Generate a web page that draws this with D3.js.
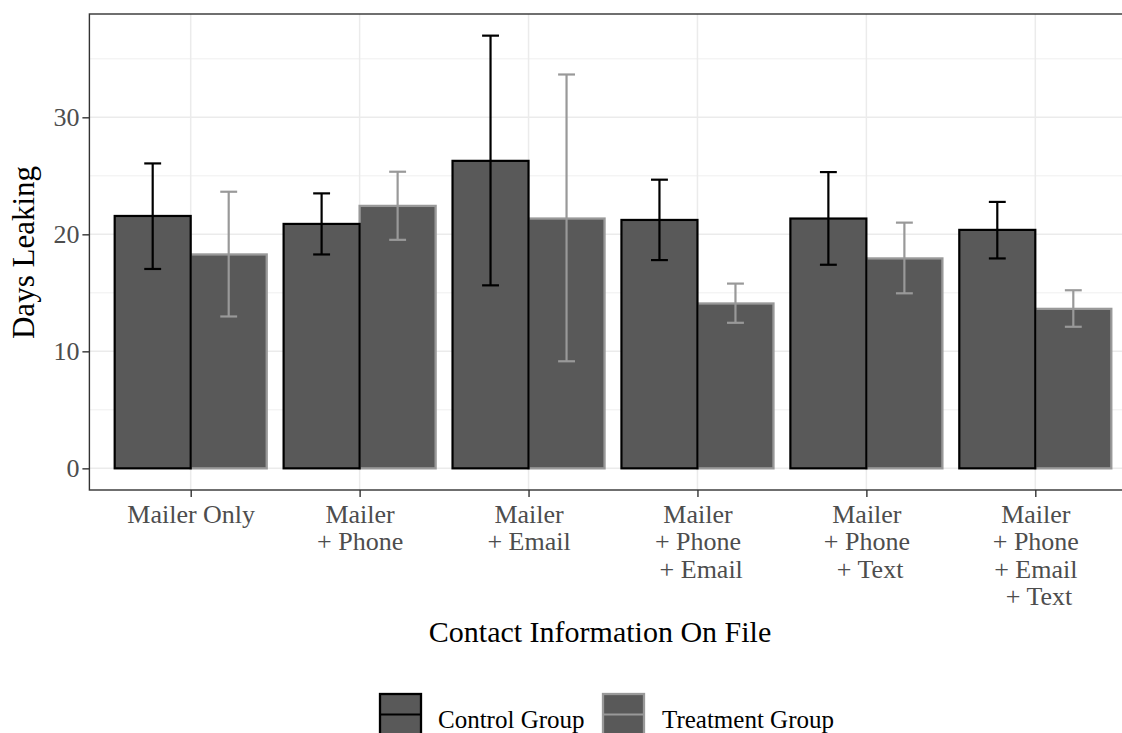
<!DOCTYPE html>
<html>
<head>
<meta charset="utf-8">
<script src="https://cdn.jsdelivr.net/npm/d3@7"></script>
<style>
  html, body { margin: 0; padding: 0; background: #fff; }
  svg { display: block; font-family: "Liberation Serif", "DejaVu Serif", serif; }
</style>
</head>
<body>
<svg id="chart" width="1122" height="733"></svg>
<script>
// Contact channel groups on the x axis (line breaks are kept per label)
const categories = [
  ["Mailer Only"],
  ["Mailer", "+ Phone"],
  ["Mailer", "+ Email"],
  ["Mailer", "+ Phone", " + Email"],
  ["Mailer", "+ Phone", " + Text"],
  ["Mailer", "+ Phone", "+ Email", " + Text"]
];
const groups = ["Control Group", "Treatment Group"];

// Mean days leaking with lower / upper error bounds
const controlMean  = [21.57, 20.89, 26.28, 21.23, 21.35, 20.38];
const controlLow   = [17.04, 18.28, 15.64, 17.80, 17.40, 17.94];
const controlHigh  = [26.06, 23.50, 36.98, 24.67, 25.32, 22.77];
const treatMean    = [18.28, 22.43, 21.35, 14.09, 17.94, 13.63];
const treatLow     = [12.98, 19.53,  9.15, 12.44, 14.96, 12.10];
const treatHigh    = [23.64, 25.35, 33.66, 15.79, 21.00, 15.22];

const yTicks = [0, 10, 20, 30];
const yMinorTicks = [5, 15, 25, 35];

const svg = d3.select("#chart");
const panel = { left: 89.4, top: 14, bottom: 490, right: 1136.6 };

const catKeys = categories.map((c, i) => i);
const x = d3.scalePoint().domain(catKeys).range([190.7, 1035.3]);
const step = x.step();
const y = d3.scaleLinear().domain([-1.85, 38.83]).range([panel.bottom, panel.top]);

const barFill = "#595959";
const strokeCol = { "Control Group": "#000000", "Treatment Group": "#999999" };

const rows = [];
categories.forEach((c, i) => {
  rows.push({ i, g: "Control Group", mean: controlMean[i], lo: controlLow[i], hi: controlHigh[i] });
  rows.push({ i, g: "Treatment Group", mean: treatMean[i], lo: treatLow[i], hi: treatHigh[i] });
});
const barW = step * 0.45;
const dodge = g => g === "Control Group" ? -barW / 2 : barW / 2;

// panel background and grid
svg.append("rect").attr("x", panel.left).attr("y", panel.top)
  .attr("width", panel.right - panel.left).attr("height", panel.bottom - panel.top)
  .attr("fill", "#fff");

const grid = svg.append("g");
yMinorTicks.forEach(v => grid.append("line")
  .attr("x1", panel.left).attr("x2", panel.right).attr("y1", y(v)).attr("y2", y(v))
  .attr("stroke", "#ebebeb").attr("stroke-width", 0.8));
yTicks.forEach(v => grid.append("line")
  .attr("x1", panel.left).attr("x2", panel.right).attr("y1", y(v)).attr("y2", y(v))
  .attr("stroke", "#ebebeb").attr("stroke-width", 1.5));
catKeys.forEach(k => grid.append("line")
  .attr("x1", x(k)).attr("x2", x(k)).attr("y1", panel.top).attr("y2", panel.bottom)
  .attr("stroke", "#ebebeb").attr("stroke-width", 1.5));

// bars: treatment first so the control outline stays on top
const order = ["Treatment Group", "Control Group"];
const bars = svg.append("g");
order.forEach(g => {
  bars.selectAll(null).data(rows.filter(r => r.g === g)).enter().append("rect")
    .attr("x", d => x(d.i) + dodge(d.g) - barW / 2)
    .attr("y", d => y(d.mean))
    .attr("width", barW)
    .attr("height", d => y(0) - y(d.mean))
    .attr("fill", barFill)
    .attr("stroke", d => strokeCol[d.g])
    .attr("stroke-width", d => d.g === "Control Group" ? 2.2 : 2.3);
});

// error bars
const capW = step * 0.1;
const eb = svg.append("g");
rows.forEach(d => {
  const cx = x(d.i) + dodge(d.g);
  const col = strokeCol[d.g];
  eb.append("line").attr("x1", cx).attr("x2", cx).attr("y1", y(d.lo)).attr("y2", y(d.hi))
    .attr("stroke", col).attr("stroke-width", 2.2);
  [d.lo, d.hi].forEach(v => eb.append("line")
    .attr("x1", cx - capW / 2).attr("x2", cx + capW / 2).attr("y1", y(v)).attr("y2", y(v))
    .attr("stroke", col).attr("stroke-width", 2.2));
});

// panel border
svg.append("rect").attr("x", panel.left).attr("y", panel.top)
  .attr("width", panel.right - panel.left).attr("height", panel.bottom - panel.top)
  .attr("fill", "none").attr("stroke", "#333333").attr("stroke-width", 1.4);

const serif = "'Liberation Serif', 'DejaVu Serif', serif";

// y axis
const yAxis = svg.append("g").attr("transform", `translate(${panel.left},0)`)
  .call(d3.axisLeft(y).tickValues(yTicks).tickSize(7).tickPadding(3).tickFormat(d3.format("d")));
yAxis.select(".domain").remove();
yAxis.selectAll(".tick line").attr("stroke", "#333333").attr("stroke-width", 1.4);
yAxis.selectAll(".tick text").attr("fill", "#4d4d4d").attr("font-size", 26)
  .attr("font-family", serif);

// x axis
const xAxis = svg.append("g").attr("transform", `translate(0,${panel.bottom})`)
  .call(d3.axisBottom(x).tickSize(7).tickFormat(""));
xAxis.select(".domain").remove();
xAxis.selectAll(".tick line").attr("stroke", "#333333").attr("stroke-width", 1.4);
xAxis.selectAll(".tick").each(function (k) {
  const t = d3.select(this).append("text")
    .attr("fill", "#4d4d4d").attr("font-size", 26).attr("text-anchor", "middle")
    .attr("font-family", serif)
    .attr("xml:space", "preserve");
  categories[k].forEach((line, j) => {
    t.append("tspan").attr("x", 0).attr("y", 33 + j * 27.3).text(line);
  });
});

// axis titles
svg.append("text").attr("x", 600).attr("y", 642).attr("text-anchor", "middle")
  .attr("font-family", serif).attr("font-size", 30).attr("fill", "#000")
  .text("Contact Information On File");
svg.append("text").attr("transform", "translate(34,252.5) rotate(-90)")
  .attr("text-anchor", "middle").attr("font-family", serif).attr("font-size", 31)
  .attr("fill", "#000").text("Days Leaking");

// legend
const legend = svg.append("g");
const keyX = [380, 603];
const labelX = [438, 662];
groups.forEach((g, i) => {
  legend.append("rect").attr("x", keyX[i]).attr("y", 694).attr("width", 41).attr("height", 42)
    .attr("fill", barFill).attr("stroke", strokeCol[g]).attr("stroke-width", 2.3);
  legend.append("line").attr("x1", keyX[i]).attr("x2", keyX[i] + 41).attr("y1", 714.5).attr("y2", 714.5)
    .attr("stroke", strokeCol[g]).attr("stroke-width", 2.2);
  legend.append("text").attr("x", labelX[i]).attr("y", 728).attr("font-family", serif)
    .attr("font-size", 25).attr("fill", "#000").text(g);
});
</script>
</body>
</html>
